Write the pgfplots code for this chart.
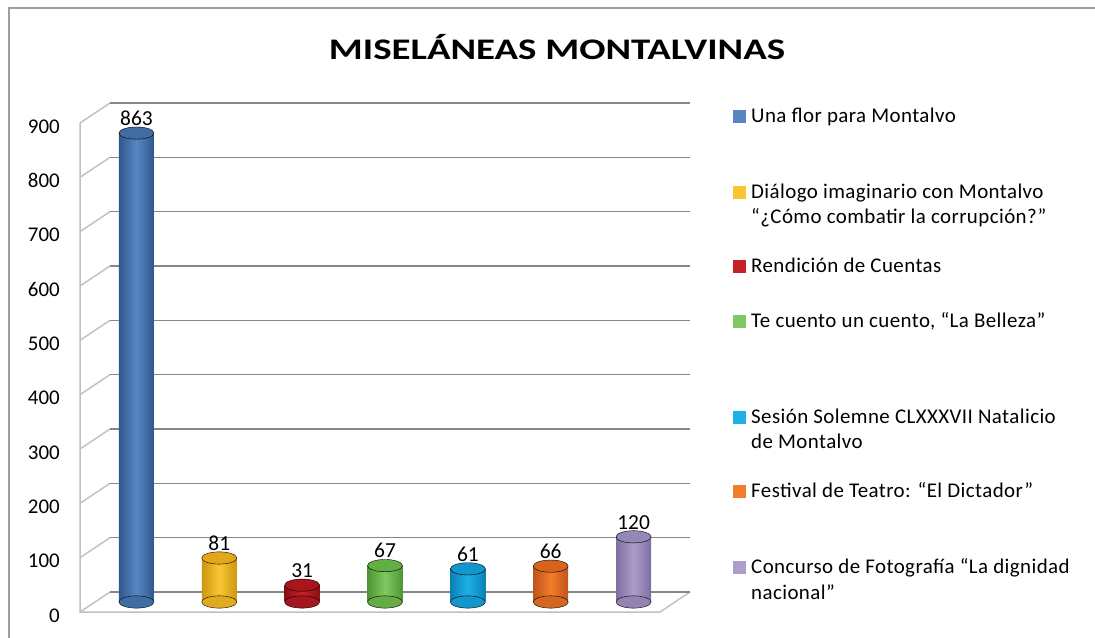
\documentclass[border=0pt]{standalone}
\usepackage{fontspec}
\setmainfont{Carlito}
\usepackage{pgfplots}
\pgfplotsset{compat=1.18}
\definecolor{backg}{RGB}{134,134,134}
\definecolor{sideg}{RGB}{192,192,192}
\definecolor{bD}{RGB}{46,88,138}\definecolor{bM}{RGB}{86,135,196}\definecolor{bT}{RGB}{62,108,163}
\definecolor{yD}{RGB}{205,150,16}\definecolor{yM}{RGB}{248,198,50}\definecolor{yT}{RGB}{228,166,26}
\definecolor{rD}{RGB}{135,16,22}\definecolor{rM}{RGB}{200,32,40}\definecolor{rT}{RGB}{170,20,28}
\definecolor{gD}{RGB}{78,150,52}\definecolor{gM}{RGB}{128,200,95}\definecolor{gT}{RGB}{98,175,70}
\definecolor{cD}{RGB}{10,128,180}\definecolor{cM}{RGB}{30,176,232}\definecolor{cT}{RGB}{18,150,205}
\definecolor{oD}{RGB}{190,84,26}\definecolor{oM}{RGB}{242,124,42}\definecolor{oT}{RGB}{215,100,30}
\definecolor{pD}{RGB}{125,110,160}\definecolor{pM}{RGB}{172,157,202}\definecolor{pT}{RGB}{150,135,185}
\newcommand\cyl[5]{%
 \addplot[only marks, mark=*, mark size=17.5bp, mark options={yscale=0.35, draw=none, fill=#3!55!#4}] coordinates {(#1,0)};
 \addplot[ybar, bar width=35bp, bar shift=0pt, draw=none, left color=#3, right color=#3, middle color=#4] coordinates {(#1,#2)};
 \addplot[only marks, mark=*, mark size=17.5bp, mark options={yscale=0.35, draw=none, fill=#5}, nodes near coords, nodes near coords style={anchor=south, yshift=4bp, font=\fontsize{21.5}{24}\selectfont, text=black}] coordinates {(#1,#2)};
}
\begin{document}
\begin{tikzpicture}
\path (0,0) rectangle (1095bp,638bp);
\draw[backg!80, line width=1.5bp] (9bp,0) -- (9bp,630bp) -- (1095bp,630bp);
\node[inner sep=0pt] at (557bp,591bp) {\scalebox{1.3}[1]{\fontsize{30}{32}\selectfont\bfseries MISELÁNEAS MONTALVINAS}};
\begin{axis}[
  at={(95bp,36bp)}, anchor=south west,
  scale only axis, width=580bp, height=489bp,
  xmin=-0.5, xmax=6.5, ymin=0, ymax=900,
  clip=false,
  axis line style={draw=none},
  xtick=\empty,
  ytick={0,100,...,900},
  major tick length=0pt,
  /pgf/number format/assume math mode=true,
  yticklabel style={anchor=east, inner sep=0pt, xshift=-35bp, yshift=-13.5bp, font=\fontsize{21}{24}\selectfont},
]
\pgfplotsinvokeforeach{100,200,...,900}{
  \draw[sideg, line width=1.5bp] ([xshift=-15bp,yshift=-10bp]axis cs:-0.5,#1) -- ([xshift=15bp,yshift=10bp]axis cs:-0.5,#1);
  \draw[backg, line width=1.5bp] ([xshift=15bp,yshift=10bp]axis cs:-0.5,#1) -- ([xshift=15bp,yshift=10bp]axis cs:6.5,#1);
}
\draw[sideg, line width=1.5bp] ([xshift=-15bp,yshift=-10bp]axis cs:-0.5,900) -- ([xshift=-15bp,yshift=-10bp]axis cs:-0.5,0)
  -- ([xshift=-15bp,yshift=-10bp]axis cs:6.5,0) -- ([xshift=15bp,yshift=10bp]axis cs:6.5,0);
\draw[sideg, line width=1.5bp] ([xshift=-15bp,yshift=-10bp]axis cs:-0.5,0) -- ([xshift=15bp,yshift=10bp]axis cs:-0.5,0);
\draw[backg, line width=1.5bp] ([xshift=15bp,yshift=10bp]axis cs:-0.5,0) -- ([xshift=15bp,yshift=10bp]axis cs:6.5,0);
\cyl{0}{863}{bD}{bM}{bT}
\cyl{1}{81}{yD}{yM}{yT}
\cyl{2}{31}{rD}{rM}{rT}
\cyl{3}{67}{gD}{gM}{gT}
\cyl{4}{61}{cD}{cM}{cT}
\cyl{5}{66}{oD}{oM}{oT}
\cyl{6}{120}{pD}{pM}{pT}
\end{axis}
\begin{scope}[every node/.style={anchor=base west, inner sep=0pt, font=\fontsize{21}{24}\selectfont\addfontfeature{LetterSpace=2}}]
\fill[bM] (733bp,{638bp-123bp}) rectangle ++(13bp,13bp);
\node at (751bp,{638bp-123bp}) {Una flor para Montalvo};
\fill[yM] (733bp,{638bp-199bp}) rectangle ++(13bp,13bp);
\node at (751bp,{638bp-199bp}) {Diálogo imaginario con Montalvo};
\node at (751bp,{638bp-224bp}) {“¿Cómo combatir la corrupción?”};
\fill[rM] (733bp,{638bp-273bp}) rectangle ++(13bp,13bp);
\node at (751bp,{638bp-273bp}) {Rendición de Cuentas};
\fill[gM] (733bp,{638bp-328bp}) rectangle ++(13bp,13bp);
\node at (751bp,{638bp-328bp}) {Te cuento un cuento, “La Belleza”};
\fill[cM] (733bp,{638bp-424bp}) rectangle ++(13bp,13bp);
\node at (751bp,{638bp-424bp}) {Sesión Solemne CLXXXVII Natalicio};
\node at (751bp,{638bp-449bp}) {de Montalvo};
\fill[oM] (733bp,{638bp-498bp}) rectangle ++(13bp,13bp);
\node at (751bp,{638bp-498bp}) {Festival de Teatro: “El Dictador”};
\fill[pM] (733bp,{638bp-574bp}) rectangle ++(13bp,13bp);
\node at (751bp,{638bp-574bp}) {Concurso de Fotografía “La dignidad};
\node at (751bp,{638bp-599bp}) {nacional”};
\end{scope}
\pgfresetboundingbox
\path (0,0) rectangle (1095bp,638bp);
\end{tikzpicture}
\end{document}
